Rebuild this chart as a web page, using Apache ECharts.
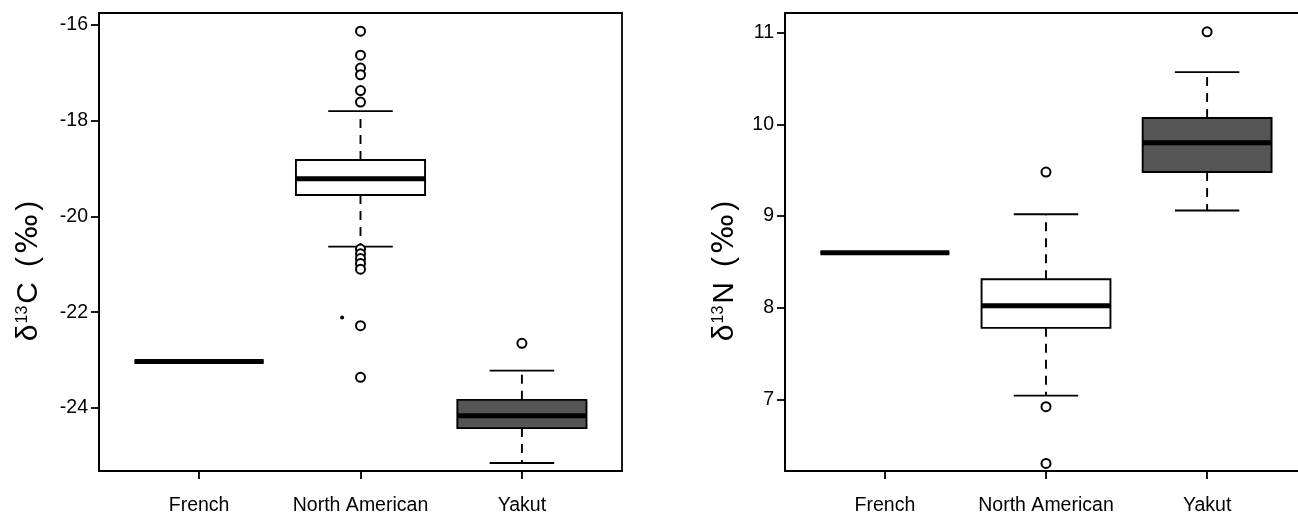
<!DOCTYPE html>
<html>
<head>
<meta charset="utf-8">
<script src="https://cdn.jsdelivr.net/npm/echarts@6/dist/echarts.min.js"></script>
<style>
  html, body { margin: 0; background: #fff; }
  #chart { width: 1298px; height: 515px; }
</style>
</head>
<body>
<div id="chart"></div>
<script>
// groups on the x axis (positions 1, 2, 3)
const groups = ['French', 'North American', 'Yakut'];

// δ13C boxes: [min, q1, median, q3, max]
const carbonBoxes = [
  [-23.03, -23.03, -23.03, -23.03, -23.03],
  [-20.63, -19.55, -19.21, -18.82, -17.80],
  [-25.15, -24.42, -24.16, -23.83, -23.22]
];
const carbonOutliers = [
  [2, -16.13], [2, -16.63], [2, -16.90], [2, -17.04], [2, -17.37], [2, -17.61],
  [2, -20.68], [2, -20.78], [2, -20.88], [2, -20.98], [2, -21.10],
  [2, -22.28], [2, -23.36],
  [3, -22.65]
];
const carbonDots = [[1.886, -22.11]];
const carbonTicks = [-24, -22, -20, -18, -16];

// δ13N boxes: [min, q1, median, q3, max]
const nitrogenBoxes = [
  [8.60, 8.60, 8.60, 8.60, 8.60],
  [7.04, 7.78, 8.02, 8.31, 9.02],
  [9.06, 9.48, 9.80, 10.07, 10.57]
];
const nitrogenOutliers = [
  [2, 9.48], [2, 6.92], [2, 6.30],
  [3, 11.01]
];
const nitrogenTicks = [7, 8, 9, 10, 11];

const boxFills = ['#ffffff', '#ffffff', '#555555'];
const FONT = '"Liberation Sans", Arial, sans-serif';

function renderBox(params, api) {
  const x = api.value(0);
  const lo = api.coord([x, api.value(1)]);
  const q1 = api.coord([x, api.value(2)]);
  const md = api.coord([x, api.value(3)]);
  const q3 = api.coord([x, api.value(4)]);
  const hi = api.coord([x, api.value(5)]);
  const w = api.size([0.8, 0])[0];
  const cx = lo[0];
  const half = w / 2;
  const cap = w / 4;
  const dash = { stroke: '#000', lineWidth: 1.9, lineDash: [9, 7] };
  const solid = { stroke: '#000', lineWidth: 1.9 };
  return {
    type: 'group',
    children: [
      { type: 'line', shape: { x1: cx, y1: q3[1], x2: cx, y2: hi[1] }, style: dash },
      { type: 'line', shape: { x1: cx, y1: q1[1], x2: cx, y2: lo[1] }, style: dash },
      { type: 'line', shape: { x1: cx - cap, y1: hi[1], x2: cx + cap, y2: hi[1] }, style: solid },
      { type: 'line', shape: { x1: cx - cap, y1: lo[1], x2: cx + cap, y2: lo[1] }, style: solid },
      { type: 'rect', shape: { x: cx - half, y: q3[1], width: w, height: q1[1] - q3[1] },
        style: { fill: boxFills[params.dataIndex], stroke: '#000', lineWidth: 1.9 } },
      { type: 'line', shape: { x1: cx - half, y1: md[1], x2: cx + half, y2: md[1] },
        style: { stroke: '#000', lineWidth: 5 } }
    ]
  };
}

function xAxis(gridIndex) {
  return {
    type: 'value', gridIndex, min: 0.38, max: 3.62,
    splitLine: { show: false },
    axisLine: { show: true, onZero: false, lineStyle: { color: '#000', width: 1.8 } },
    axisTick: { show: true, customValues: [1, 2, 3], length: 8, lineStyle: { color: '#000', width: 1.8 } },
    axisLabel: {
      customValues: [1, 2, 3], margin: 25, color: '#000', fontSize: 19.5, fontFamily: FONT,
      formatter: v => groups[Math.round(v) - 1]
    }
  };
}

function yAxis(gridIndex, min, max, ticks, element, gap) {
  const t = { color: '#000', fontFamily: FONT, lineHeight: 34 };
  return {
    type: 'value', gridIndex, min, max,
    splitLine: { show: false },
    axisLine: { show: true, lineStyle: { color: '#000', width: 1.8 } },
    axisTick: { show: true, customValues: ticks, length: 8, lineStyle: { color: '#000', width: 1.8 } },
    axisLabel: { customValues: ticks, margin: 11, color: '#000', fontSize: 19.5, fontFamily: FONT },
    name: '{d|δ}{s|13}{e|' + element + '}{p|(}{m|‰}{p|)}',
    nameLocation: 'middle',
    nameGap: gap,
    nameTextStyle: {
      padding: [0, 58, 0, 0],
      rich: {
        d: Object.assign({ fontSize: 30, padding: [0, 1, 0, 0] }, t),
        s: Object.assign({ fontSize: 16, verticalAlign: 'top', padding: [3, 2, 0, 0] }, t),
        e: Object.assign({ fontSize: 30, padding: [0, 15, 0, 0] }, t),
        p: Object.assign({ fontSize: 30 }, t),
        m: Object.assign({ fontSize: 30, padding: [0, 3, 0, 3] }, t, { fontFamily: '"DejaVu Sans", sans-serif' })
      }
    }
  };
}

const boxData = arr => arr.map((b, i) => [i + 1].concat(b));

const chart = echarts.init(document.getElementById('chart'), null, { renderer: 'canvas' });
chart.setOption({
  animation: false,
  backgroundColor: '#fff',
  grid: [
    { left: 99, top: 13, width: 523, height: 458, show: true, borderColor: '#000', borderWidth: 1.8,
      outerBoundsMode: 'none' },
    { left: 785, top: 13, width: 522, height: 458, show: true, borderColor: '#000', borderWidth: 1.8,
      outerBoundsMode: 'none' }
  ],
  xAxis: [xAxis(0), xAxis(1)],
  yAxis: [
    yAxis(0, -25.316, -15.75, carbonTicks, 'C', 53),
    yAxis(1, 6.218, 11.215, nitrogenTicks, 'N', 43)
  ],
  series: [
    {
      type: 'custom', xAxisIndex: 0, yAxisIndex: 0,
      renderItem: renderBox, encode: { x: 0, y: [1, 2, 3, 4, 5] },
      data: boxData(carbonBoxes)
    },
    {
      type: 'scatter', xAxisIndex: 0, yAxisIndex: 0, symbol: 'circle', symbolSize: 9,
      itemStyle: { color: '#fff', borderColor: '#000', borderWidth: 2, opacity: 1 },
      data: carbonOutliers, z: 5
    },
    {
      type: 'scatter', xAxisIndex: 0, yAxisIndex: 0, symbol: 'circle', symbolSize: 4,
      itemStyle: { color: '#000', opacity: 1 },
      data: carbonDots, z: 5
    },
    {
      type: 'custom', xAxisIndex: 1, yAxisIndex: 1,
      renderItem: renderBox, encode: { x: 0, y: [1, 2, 3, 4, 5] },
      data: boxData(nitrogenBoxes)
    },
    {
      type: 'scatter', xAxisIndex: 1, yAxisIndex: 1, symbol: 'circle', symbolSize: 9,
      itemStyle: { color: '#fff', borderColor: '#000', borderWidth: 2, opacity: 1 },
      data: nitrogenOutliers, z: 5
    }
  ]
});
</script>
</body>
</html>
